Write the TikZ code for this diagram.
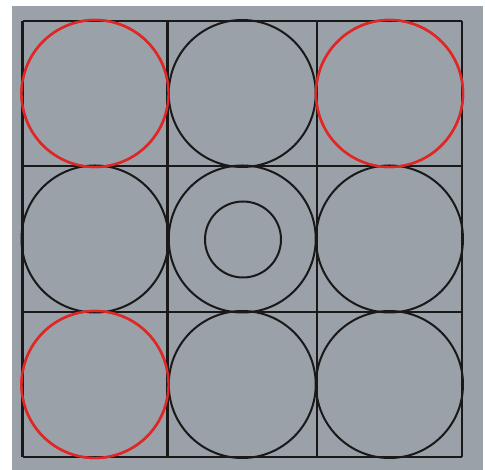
\documentclass[tikz,border=0pt]{standalone}
\usepackage{tikz}
\definecolor{panel}{RGB}{155,161,168}
\definecolor{ringred}{RGB}{225,38,38}
\begin{document}
\begin{tikzpicture}[
    x=1pt, y=1pt,
    gridline/.style={draw=black!90, line width=2.4pt},
    ring/.style={draw=black!90, line width=2pt},
    hotring/.style={draw=ringred, line width=2.4pt}
  ]
  \useasboundingbox (0,0) rectangle (485,470);
  \fill[panel] (12,0) rectangle (483,464);
  % circles in the cells
  \foreach \cx/\cy/\st in {95/376.5/hotring, 242.25/376.5/ring, 389.5/376.5/hotring,
                           95/231/ring, 242.25/231/ring, 389.5/231/ring,
                           95/85.5/hotring, 242.25/85.5/ring, 389.5/85.5/ring}
    \draw[\st] (\cx,\cy) circle (73.5);
  \draw[ring] (243,230.5) circle (38);
  % grid
  \foreach \gx in {22.5, 167.5, 317, 462}
    \draw[gridline] (\gx,13) -- (\gx,449);
  \foreach \gy in {13, 158, 304, 449}
    \draw[gridline] (22.5,\gy) -- (462,\gy);
  % red rings above the grid
  \foreach \cx/\cy in {95/376.5, 389.5/376.5, 95/85.5}
    \draw[hotring] (\cx,\cy) circle (73.5);
\end{tikzpicture}
\end{document}
